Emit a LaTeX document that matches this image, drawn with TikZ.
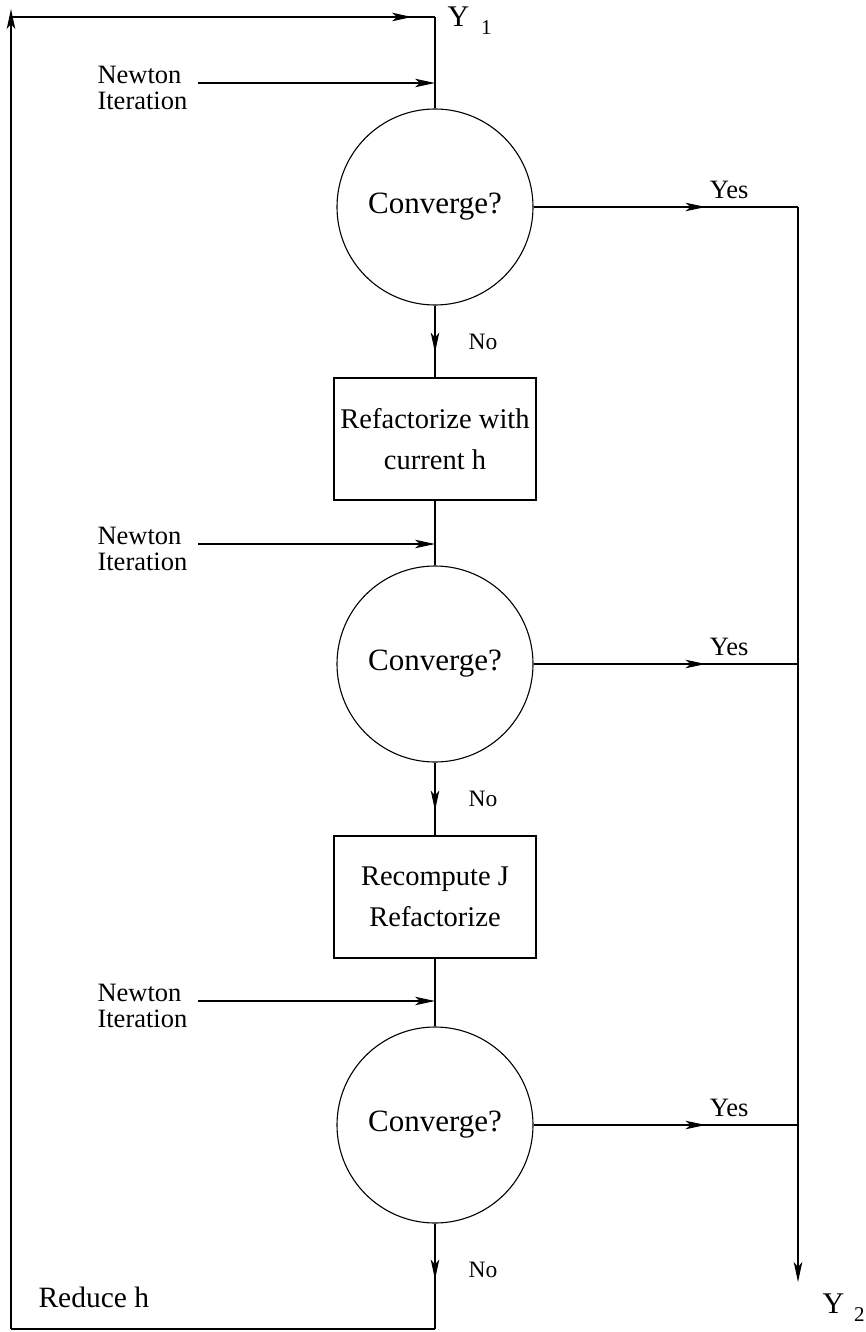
\documentclass[tikz,border=0pt]{standalone}
\usepackage{fontspec}
\setmainfont{Liberation Serif}
\usetikzlibrary{arrows.meta,decorations.markings,positioning}
\tikzset{
    conv/.style={circle, draw, minimum size=196pt, inner sep=0pt, font=\fontsize{31}{36}\selectfont},
    stepbox/.style={rectangle, draw, minimum width=202pt, minimum height=122pt, inner sep=0pt, align=center, font=\fontsize{28.5}{41}\selectfont},
    lbl/.style={inner sep=0pt, align=left, font=\fontsize{26.5}{26}\selectfont},
    small/.style={inner sep=0pt, font=\fontsize{23.5}{26}\selectfont},
    arrowat/.style={postaction={decorate}, decoration={markings, mark=at position #1 with {\arrow{>}}}},
}
\begin{document}
\begin{tikzpicture}[x=1pt, y=-1pt, line width=1.1pt, >={Stealth[length=20pt, width=8.5pt, inset=5pt]}]
    \useasboundingbox (0,0) rectangle (865,1332);

    \node[conv] (conv1) at (435,207) {Converge?};
    \node[stepbox] (refac) at (435,439) {Refactorize with\\current h};
    \node[conv] (conv2) at (435,664) {Converge?};
    \node[stepbox] (recomp) at (435,897) {Recompute J\\Refactorize};
    \node[conv] (conv3) at (435,1125) {Converge?};

    \node[lbl, anchor=north west] (newton1) at (97,66) {Newton\\Iteration};
    \node[lbl, anchor=north west] (newton2) at (97,527) {Newton\\Iteration};
    \node[lbl, anchor=north west] (newton3) at (97,984) {Newton\\Iteration};

    \coordinate (top) at (435,17);
    \coordinate (topleft) at (11,17);
    \coordinate (upend) at (11,9);
    \coordinate (botleft) at (11,1329);
    \coordinate (botright) at (435,1329);
    \coordinate (right) at (798,207);
    \coordinate (downend) at (798,1282);
    \coordinate (in1) at (198,83);
    \coordinate (in2) at (198,544);
    \coordinate (in3) at (198,1001);

    \node[lbl, anchor=base west, font=\fontsize{30}{30}\selectfont] (y1) at (447,27) {Y\hspace{12pt}\raisebox{-8pt}{\fontsize{21}{21}\selectfont 1}};
    \node[lbl, anchor=base west, font=\fontsize{30}{30}\selectfont] (y2) at (822,1313) {Y\hspace{10pt}\raisebox{-8pt}{\fontsize{21}{21}\selectfont 2}};
    \node[lbl, anchor=base west, font=\fontsize{29.5}{30}\selectfont] (reduce) at (38,1307) {Reduce h};

    \draw[arrowat=401pt] (topleft) -- (top);
    \draw (top) -- (conv1.north);
    \draw[->] (in1) -- (in1 -| top);
    \draw[->] (in2) -- (in2 -| top);
    \draw[->] (in3) -- (in3 -| top);

    \draw[arrowat=47pt] (conv1.south) -- (refac.north) node[small, pos=0.5, right=33pt] {No};
    \draw (refac.south) -- (conv2.north);
    \draw[arrowat=48pt] (conv2.south) -- (recomp.north) node[small, pos=0.5, right=33pt] {No};
    \draw (recomp.south) -- (conv3.north);
    \draw[arrowat=56pt] (conv3.south) -- (botright) node[small, pos=0.44, right=33pt] {No};
    \draw (botright) -- (botleft);
    \draw[->] (botleft) -- (upend);

    \draw[arrowat=172pt] (conv1.east) -- (right) node[lbl, pos=0.74, above=8pt] {Yes};
    \draw[arrowat=172pt] (conv2.east) -- (conv2.east -| right) node[lbl, pos=0.74, above=8pt] {Yes};
    \draw[arrowat=172pt] (conv3.east) -- (conv3.east -| right) node[lbl, pos=0.74, above=8pt] {Yes};
    \draw[->] (right) -- (downend);
\end{tikzpicture}
\end{document}
